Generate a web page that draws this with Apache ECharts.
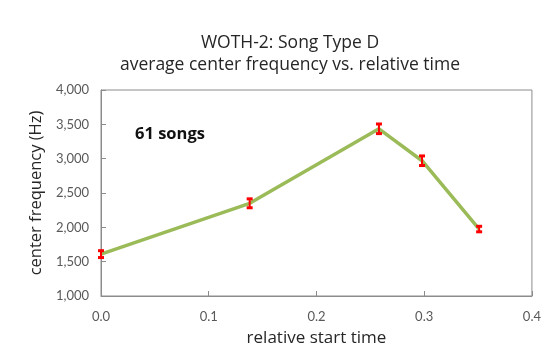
<!DOCTYPE html>
<html>
<head>
<meta charset="utf-8">
<script src="https://cdn.jsdelivr.net/npm/echarts@6/dist/echarts.min.js"></script>
<style>
  html, body { margin: 0; padding: 0; background: #fff; }
  #chart { width: 544px; height: 358px; }
</style>
</head>
<body>
<div id="chart"></div>
<script>
// Relative start time of each song segment
const relTime = [0.0, 0.138, 0.258, 0.298, 0.351];
// Average center frequency (Hz)
const centerFreq = [1610, 2350, 3435, 2970, 1975];
// Half-width of the error bars (Hz)
const freqErr = [50, 65, 70, 70, 40];

const xTicks = { min: 0, max: 0.4, step: 0.1 };
const yTicks = { min: 1000, max: 4000, step: 500 };

const font = '"Open Sans", Lato, sans-serif';
const tickFont = 'Lato, "Open Sans", sans-serif';

const lineData = relTime.map((t, i) => [t, centerFreq[i]]);
const errData = relTime.map((t, i) => [t, centerFreq[i] - freqErr[i], centerFreq[i] + freqErr[i]]);

const chart = echarts.init(document.getElementById('chart'), null, { renderer: 'canvas' });

chart.setOption({
  animation: false,
  backgroundColor: '#fff',
  title: {
    text: 'WOTH-2: Song Type D\naverage center frequency vs. relative time',
    left: 285,
    textAlign: 'center',
    top: 27,
    textStyle: { fontFamily: font, fontSize: 17.5, fontWeight: 'normal', color: '#262626', lineHeight: 22 }
  },
  graphic: [{
    type: 'text',
    left: 135,
    top: 126,
    style: { text: '61 songs', font: 'bold 16.5px ' + font, fill: '#111' }
  }],
  grid: {
    left: 101, right: 11, top: 90, bottom: 62,
    show: true, borderColor: '#8c8c8c', borderWidth: 1
  },
  xAxis: {
    type: 'value',
    min: xTicks.min, max: xTicks.max, interval: xTicks.step,
    name: 'relative start time',
    nameLocation: 'middle',
    nameGap: 34,
    nameTextStyle: { fontFamily: font, fontSize: 17, color: '#262626' },
    axisLine: { lineStyle: { color: '#8c8c8c' } },
    axisTick: { inside: true, length: 5, lineStyle: { color: '#8c8c8c' } },
    axisLabel: { fontFamily: tickFont, fontSize: 13, color: '#595959', margin: 14,
      formatter: v => v.toFixed(1) },
    splitLine: { show: false }
  },
  yAxis: {
    type: 'value',
    min: yTicks.min, max: yTicks.max, interval: yTicks.step,
    name: 'center frequency (Hz)',
    nameLocation: 'middle',
    nameGap: 53,
    nameTextStyle: { fontFamily: font, fontSize: 16.5, color: '#262626' },
    axisLine: { show: true, lineStyle: { color: '#8c8c8c' } },
    axisTick: { show: true, inside: true, length: 5, lineStyle: { color: '#8c8c8c' } },
    axisLabel: { fontFamily: tickFont, fontSize: 13, color: '#595959', margin: 12,
      formatter: v => v.toLocaleString('en-US') },
    splitLine: { show: false }
  },
  series: [
    {
      type: 'line',
      data: lineData,
      symbol: 'none',
      lineStyle: { color: '#9BBB59', width: 3.5 },
      z: 2
    },
    {
      type: 'custom',
      data: errData,
      z: 3,
      renderItem: function (params, api) {
        const x = api.value(0);
        const lo = api.coord([x, api.value(1)]);
        const hi = api.coord([x, api.value(2)]);
        const cap = 3;
        const capStyle = { stroke: '#ff0000', lineWidth: 3 };
        return {
          type: 'group',
          children: [
            { type: 'line', shape: { x1: lo[0], y1: lo[1], x2: hi[0], y2: hi[1] }, style: { stroke: '#ff0000', lineWidth: 2 } },
            { type: 'line', shape: { x1: lo[0] - cap, y1: lo[1], x2: lo[0] + cap, y2: lo[1] }, style: capStyle },
            { type: 'line', shape: { x1: hi[0] - cap, y1: hi[1], x2: hi[0] + cap, y2: hi[1] }, style: capStyle }
          ]
        };
      }
    }
  ]
});
</script>
</body>
</html>
